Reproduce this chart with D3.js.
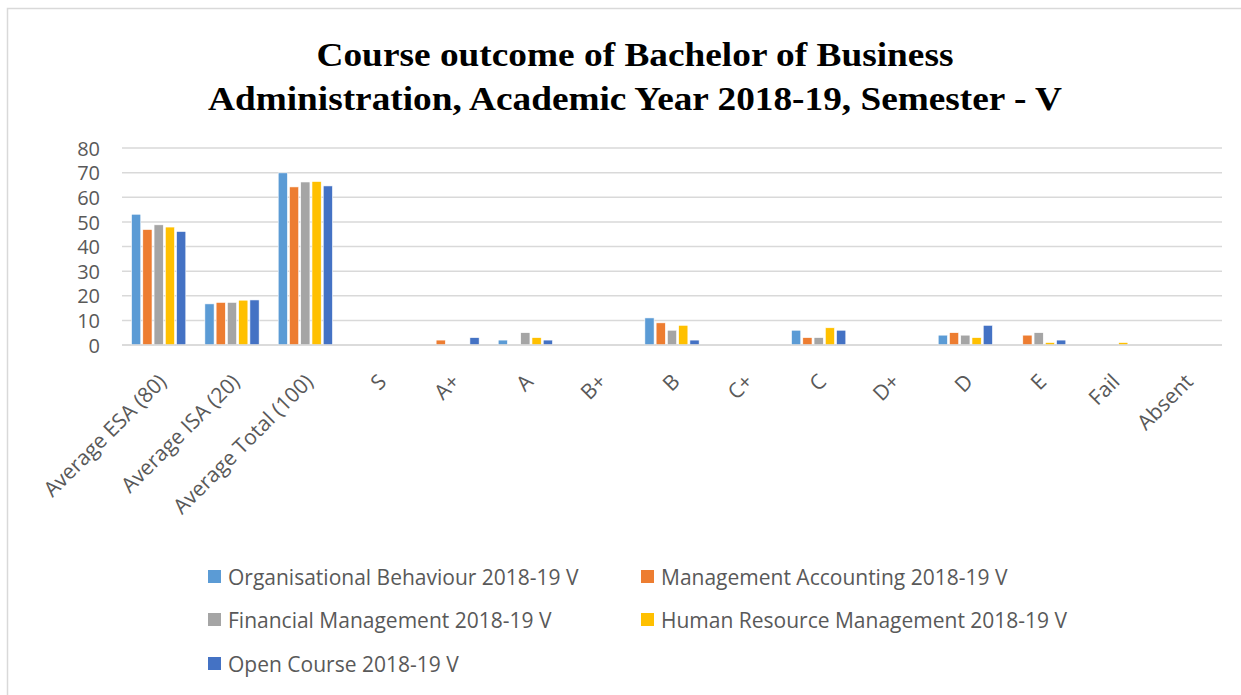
<!DOCTYPE html>
<html>
<head>
<meta charset="utf-8">
<script src="https://cdn.jsdelivr.net/npm/d3@7"></script>
<style>
  body { margin: 0; background: #fff; }
  svg { display: block; }
  .tick text { font-family: "Open Sans", sans-serif; fill: #595959; }
</style>
</head>
<body>
<svg width="1241" height="695"></svg>
<script>
// categories along the x axis
var categories = ["Average ESA (80)", "Average ISA (20)", "Average Total (100)", "S", "A+", "A", "B+", "B", "C+", "C", "D+", "D", "E", "Fail", "Absent"];

// one array per course
var orgBehaviour = [53.1, 16.7, 69.9, 0, 0, 2, 0, 11, 0, 6, 0, 4, 0, 0, 0];
var mgmtAccounting = [46.9, 17.3, 64.2, 0, 2, 0, 0, 9, 0, 3, 0, 5, 4, 0, 0];
var finManagement = [48.8, 17.3, 66.2, 0, 0, 5, 0, 6, 0, 3, 0, 4, 5, 0, 0];
var hrManagement = [47.9, 18.2, 66.4, 0, 0, 3, 0, 8, 0, 7, 0, 3, 1, 1, 0];
var openCourse = [46.1, 18.3, 64.6, 0, 3, 2, 0, 2, 0, 6, 0, 8, 2, 0, 0];

var seriesNames = ["Organisational Behaviour 2018-19 V", "Management Accounting 2018-19 V", "Financial Management 2018-19 V", "Human Resource Management 2018-19 V", "Open Course 2018-19 V"];
var seriesColors = ["#5B9BD5", "#ED7D31", "#A5A5A5", "#FFC000", "#4472C4"];
var yTicks = [0, 10, 20, 30, 40, 50, 60, 70, 80];
var titleLines = ["Course outcome of Bachelor of Business", "Administration, Academic Year 2018-19, Semester - V"];

var allSeries = [orgBehaviour, mgmtAccounting, finManagement, hrManagement, openCourse];

var margin = { top: 148, left: 122 },
  plot_x1 = 1222,
  plot_y1 = 345;

var svg = d3.select("svg");

// chart frame
svg.append("rect")
  .attr("x", 7.5).attr("y", 8.5)
  .attr("width", 1260).attr("height", 720)
  .attr("fill", "none")
  .attr("stroke", "#d9d9d9")
  .attr("stroke-width", 1.5);

// title (the reference is a bit stretched sideways, so fit each line to its width)
var titleWidth = [637, 854];
svg.append("g")
  .selectAll("text")
  .data(titleLines)
  .enter()
  .append("text")
  .attr("x", (d, i) => 635 - titleWidth[i] / 2)
  .attr("y", (d, i) => 66 + i * 44)
  .attr("textLength", (d, i) => titleWidth[i])
  .attr("lengthAdjust", "spacingAndGlyphs")
  .attr("font-family", "'Liberation Serif', 'Times New Roman', serif")
  .attr("font-weight", "bold")
  .attr("font-size", 34)
  .attr("fill", "#000")
  .text((d) => d);

var x0 = d3.scaleBand()
  .domain(categories)
  .range([margin.left, plot_x1])
  .paddingInner(0.26)
  .paddingOuter(0.13);

var x1 = d3.scaleBand()
  .domain(d3.range(allSeries.length))
  .range([0, x0.bandwidth()])
  .paddingInner(0.18);

var y = d3.scaleLinear().domain([0, 80]).range([plot_y1, margin.top]);

// gridlines
svg.append("g")
  .attr("id", "grid")
  .selectAll("line")
  .data(yTicks)
  .enter()
  .append("line")
  .attr("x1", margin.left)
  .attr("x2", plot_x1)
  .attr("y1", (d) => y(d))
  .attr("y2", (d) => y(d))
  .attr("stroke", "#d9d9d9")
  .attr("stroke-width", 1.5);

// y axis labels
var axis_y = d3.axisLeft(y).tickValues(yTicks).tickSize(0).tickPadding(0);
svg.append("g")
  .attr("id", "axis_y")
  .attr("transform", "translate(100,0)")
  .call(axis_y)
  .call((g) => g.select(".domain").remove())
  .selectAll("text")
  .attr("font-size", 20)
  .attr("dy", "0.36em");

// bars
var groups = svg.append("g")
  .selectAll("g")
  .data(categories)
  .enter()
  .append("g")
  .attr("transform", (d) => "translate(" + x0(d) + ",0)");

groups.selectAll("rect")
  .data((d, i) => allSeries.map((s, k) => ({ k: k, v: s[i] })))
  .enter()
  .filter((d) => d.v > 0)
  .append("rect")
  .attr("x", (d) => x1(d.k))
  .attr("width", x1.bandwidth())
  .attr("y", (d) => y(d.v))
  .attr("height", (d) => y(0) - y(d.v))
  .attr("fill", (d) => seriesColors[d.k])
  .attr("stroke", "#fff")
  .attr("stroke-width", 0.6);

// x axis line
svg.append("line")
  .attr("x1", margin.left).attr("x2", plot_x1)
  .attr("y1", y(0)).attr("y2", y(0))
  .attr("stroke", "#d9d9d9")
  .attr("stroke-width", 1.5);

// category labels, rotated
svg.append("g")
  .attr("id", "axis_x")
  .selectAll("text")
  .data(categories)
  .enter()
  .append("text")
  .attr("transform", (d) => "translate(" + (x0(d) + x0.bandwidth() / 2 + 9) + "," + (y(0) + 38) + ") rotate(-45)")
  .attr("text-anchor", "end")
  .attr("font-family", "'Open Sans', sans-serif")
  .attr("font-size", 21)
  .attr("fill", "#595959")
  .text((d) => d);

// legend
var legendPos = [[208, 577], [641, 577], [208, 620], [641, 620], [208, 664]];
var legend = svg.append("g")
  .selectAll("g")
  .data(seriesNames)
  .enter()
  .append("g")
  .attr("transform", (d, i) => "translate(" + legendPos[i][0] + "," + legendPos[i][1] + ")");

legend.append("rect")
  .attr("x", 0).attr("y", -7)
  .attr("width", 13).attr("height", 13)
  .attr("fill", (d, i) => seriesColors[i]);

legend.append("text")
  .attr("x", 20)
  .attr("dy", "0.36em")
  .attr("font-family", "'Open Sans', sans-serif")
  .attr("font-size", 21)
  .attr("fill", "#595959")
  .text((d) => d);
</script>
</body>
</html>
